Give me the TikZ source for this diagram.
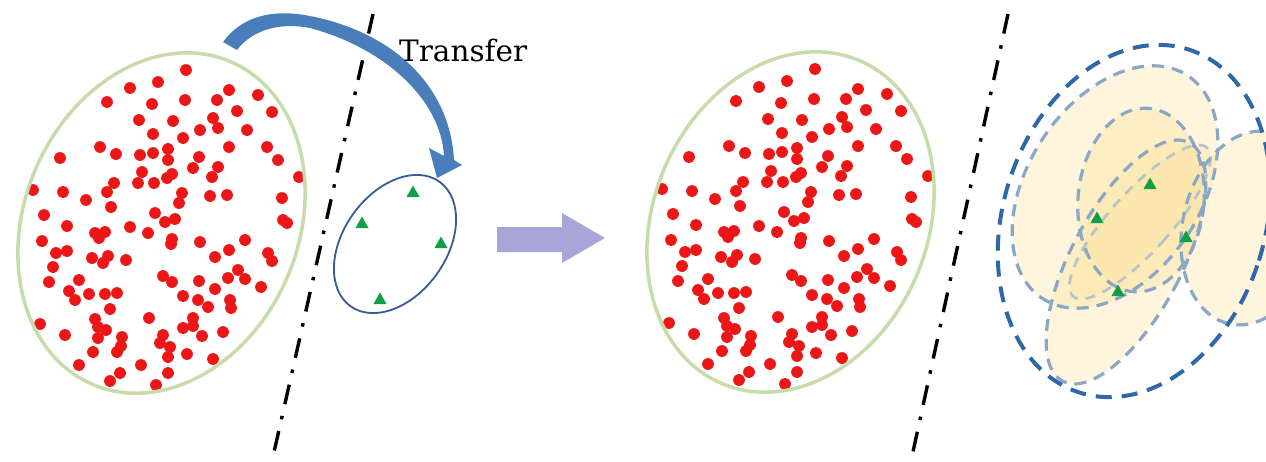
\documentclass[tikz,border=0pt]{standalone}
\usepackage{fontspec}
\usetikzlibrary{shapes.geometric}
\newfontfamily\labelfont{DejaVu Serif}

\definecolor{dotred}{RGB}{236,22,22}
\definecolor{setgreen}{RGB}{200,219,170}
\definecolor{tgtblue}{RGB}{52,92,150}
\definecolor{arrblue}{RGB}{74,126,186}
\definecolor{trigreen}{RGB}{18,158,72}
\definecolor{stepviolet}{RGB}{166,166,216}
\definecolor{hullblue}{RGB}{46,104,168}
\definecolor{subblue}{RGB}{138,168,198}
\definecolor{subfaint}{RGB}{182,198,200}
\definecolor{cream}{RGB}{252,226,158}

\tikzset{
  domainset/.style={ellipse, draw=setgreen, line width=3.5pt, inner sep=0pt,
    minimum width=274pt, minimum height=351pt, rotate=-23.1},
  targetset/.style={ellipse, draw=tgtblue, line width=1.8pt, inner sep=0pt,
    minimum width=103pt, minimum height=153pt, rotate=-35.5},
  sepline/.style={line width=3.4pt, black, dash pattern=on 20pt off 12pt on 3.5pt off 12pt},
  tri/.pic={\fill[trigreen] (-6.5,5) -- (6.5,5) -- (0,-6.5) -- cycle;},
  subA/.style={ellipse, inner sep=0pt, minimum width=174pt, minimum height=266pt, rotate=-33},
  subB/.style={ellipse, inner sep=0pt, minimum width=110pt, minimum height=270pt, rotate=-28},
  subC/.style={ellipse, inner sep=0pt, minimum width=135pt, minimum height=196pt, rotate=-12},
  subD/.style={ellipse, inner sep=0pt, minimum width=126pt, minimum height=184pt, rotate=-5},
  subE/.style={ellipse, inner sep=0pt, minimum width=60pt, minimum height=200pt, rotate=-42},
  subfill/.style={fill=cream, fill opacity=0.36},
  subline/.style={draw=subblue, line width=3.2pt, dash pattern=on 12pt off 8pt},
  hull/.style={ellipse, draw=hullblue, line width=4pt, dash pattern=on 16pt off 10pt,
    inner sep=0pt, minimum width=262pt, minimum height=360pt, rotate=-17.6},
}

\newcommand\redcloud{%
  \foreach \p in {(186,70),(130,88),(158,82),(107,102),(152,104),(185,100),(217,100),
    (229,90),(258,95),(272,112),(237,111),(213,118),(218,128),(200,130),(247,130),
    (173,121),(139,120),(153,134),(183,138),(100,147),(116,154),(140,155),(153,153),
    (168,149),(168,160),(199,157),(229,147),(267,147),(278,160),(60,158),(33,190),
    (63,192),(86,200),(107,192),(114,183),(142,172),(138,183),(154,183),(167,178),
    (172,174),(193,168),(218,167),(212,177),(210,196),(227,195),(182,193),(179,203),
    (299,177),(282,198),(283,220),(287,223),(44,215),(67,226),(111,207),(155,213),
    (165,222),(175,219),(130,227),(148,233),(95,233),(105,232),(99,238),(42,241),
    (172,239),(171,244),(200,242),(245,240),(229,250),(215,257),(268,253),(272,261),
    (56,253),(67,251),(53,267),(92,258),(108,256),(103,263),(126,260),(49,282),
    (79,280),(69,291),(75,300),(89,294),(105,294),(117,293),(163,276),(172,282),
    (199,281),(228,278),(238,270),(245,279),(261,287),(215,289),(183,296),(198,300),
    (208,307),(230,300),(231,308),(110,309),(40,324),(65,335),(95,319),(98,327),
    (106,330),(98,338),(122,337),(121,346),(117,352),(93,352),(149,318),(163,335),
    (160,343),(170,347),(168,357),(183,328),(193,318),(193,326),(202,336),(223,332),
    (187,354),(213,359),(79,365),(120,373),(110,381),(141,365),(168,373),(156,385)}
    {\fill[dotred] \p circle[radius=5.9pt];}%
}

\begin{document}
\begin{tikzpicture}[x=1pt, y=-1pt]
  \useasboundingbox (0,0) rectangle (1266,461);
  \clip (0,0) rectangle (1266,461);

  % source domain
  \redcloud
  \node[domainset] (src) at (161.5,223) {};

  % separators
  \coordinate (s1a) at (373,14);
  \coordinate (s1b) at (272,461);
  \coordinate (s2a) at (1008,14);
  \coordinate (s2b) at (911,461);
  \draw[sepline] (s1a) -- (s1b);
  \draw[sepline] (s2a) -- (s2b);

  % target domain with few labelled samples
  \node[targetset] (tgt) at (395,244) {};
  \foreach \q in {(413,192),(362,223),(441,243),(380,299)} \pic at \q {tri};

  % curved transfer arrow, tapering towards its head
  \fill[arrblue] (223,42) .. controls (245,12) and (280,10) .. (310,16)
    .. controls (392,32) and (450,85) .. (454,160)
    -- (462,165) -- (437,178) -- (429,148) -- (444,156)
    .. controls (441,100) and (385,48) .. (310,28)
    .. controls (280,22) and (252,30) .. (237,50) -- cycle;
  \node[anchor=base west, font=\labelfont\fontsize{29.5}{36}\selectfont, inner sep=0pt] (transfer) at (399,61) {Transfer};

  % step arrow
  \fill[stepviolet] (497,227) -- (562,227) -- (562,213) -- (605,238)
    -- (562,263) -- (562,252) -- (497,252) -- cycle;

  % source domain again
  \begin{scope}[shift={(629,-1)}]
    \redcloud
  \end{scope}
  \node[domainset] (src2) at (790.5,222) {};

  % target domain: overlapping sub-regions
  \node[subA, subfill] at (1115,187) {};
  \node[subB, subfill] at (1126,262) {};
  \node[subC, subfill] at (1250,228) {};
  \node[subD, subfill] at (1141,200) {};
  \node[subE, subfill] at (1140,222) {};
  \node[subE, draw=subfaint, line width=2.8pt, dash pattern=on 10pt off 8pt] (rE) at (1140,222) {};
  \node[subA, subline] (rA) at (1115,187) {};
  \node[subB, subline] (rB) at (1126,262) {};
  \node[subC, subline] (rC) at (1250,228) {};
  \node[subD, subline] (rD) at (1141,200) {};
  \node[hull] (hullnode) at (1134,221) {};
  \foreach \q in {(1150,184),(1097,218),(1186,237),(1118,291)} \pic at \q {tri};
\end{tikzpicture}
\end{document}
